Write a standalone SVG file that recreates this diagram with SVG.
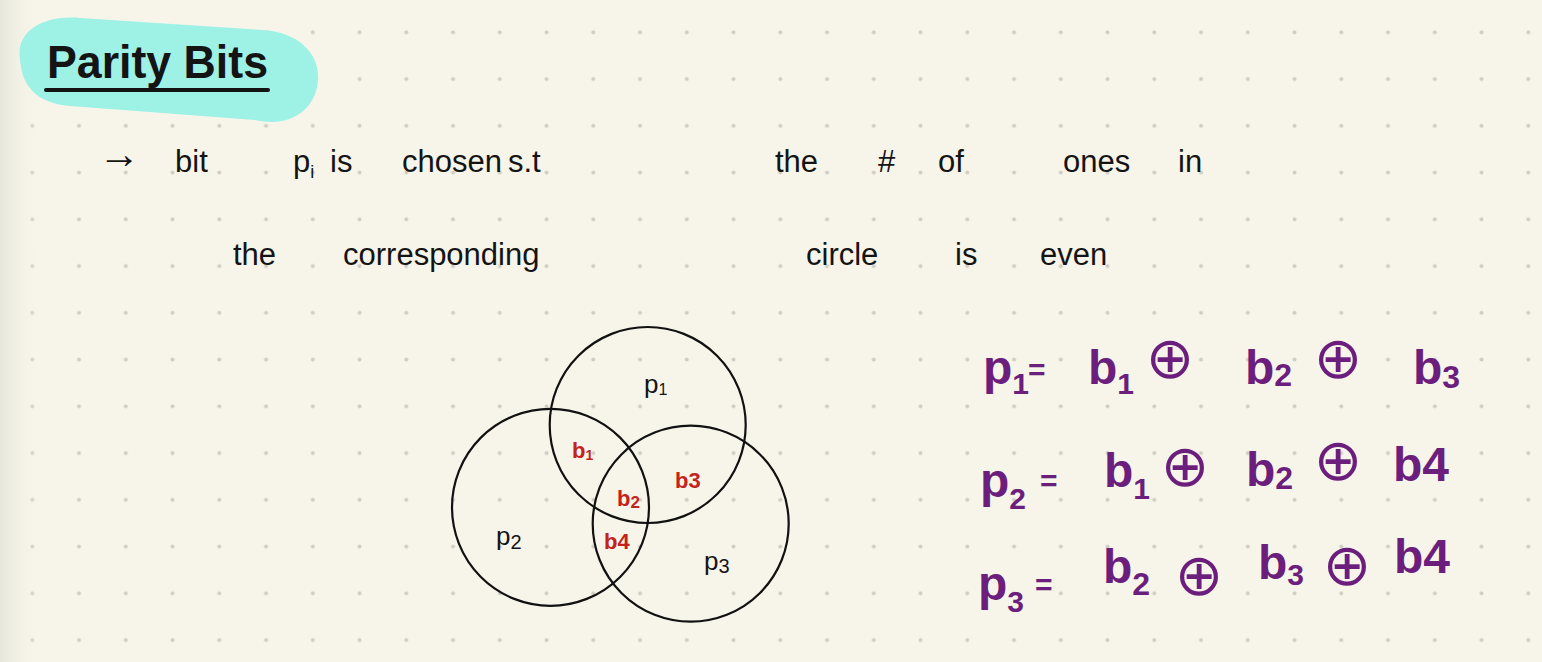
<svg xmlns="http://www.w3.org/2000/svg" width="1542" height="662" viewBox="0 0 1542 662">
  <defs>
    <pattern id="dots" patternUnits="userSpaceOnUse" width="46.75" height="46.75">
      <circle cx="32.3" cy="32.3" r="2" fill="#cfcdc4"/>
    </pattern>
    <linearGradient id="edge" x1="0" y1="0" x2="1" y2="0">
      <stop offset="0" stop-color="#e6e6da"/>
      <stop offset="1" stop-color="#f7f5ea" stop-opacity="0"/>
    </linearGradient>
    <style>
      .ink { font-family: "Liberation Sans", "DejaVu Sans", sans-serif; fill: #141414; }
      .note { font-size: 31px; }
      .red { font-family: "Liberation Sans", sans-serif; fill: #c4231b; font-size: 22px; font-weight: bold; }
      .lbl { font-family: "Liberation Sans", sans-serif; fill: #141414; font-size: 26px; }
      .eq { font-family: "Liberation Sans", "DejaVu Sans", sans-serif; fill: #6c1e7d; font-size: 48px; font-weight: bold; }
      .xor { font-family: "DejaVu Sans", sans-serif; fill: #6c1e7d; font-size: 58px; }
      .venn { fill: none; stroke: #111; stroke-width: 2.2; }
    </style>
  </defs>
  <rect width="1542" height="662" fill="#f7f5ea"/>
  <rect width="1542" height="662" fill="url(#dots)"/>
  <rect width="40" height="662" fill="url(#edge)"/>

  <g id="title">
    <path d="M 20,60 C 15,30 45,15 80,18 L 262,30 C 300,32 320,55 318,80 C 316,110 290,128 255,120 L 70,106 C 35,103 22,85 20,60 Z" fill="#9ef1e5"/>
    <text class="ink" x="47" y="78" font-size="46" font-weight="bold" textLength="221" lengthAdjust="spacingAndGlyphs">Parity Bits</text>
    <line x1="46" y1="90" x2="268" y2="90" stroke="#141414" stroke-width="4" stroke-linecap="round"/>
  </g>

  <g id="note-line-1">
    <text class="ink note" y="172"><tspan x="98" font-size="42" dy="-4">→</tspan><tspan x="175" dy="4">bit</tspan><tspan x="293">p</tspan><tspan font-size="18" dy="6">i</tspan><tspan x="330" dy="-6">is</tspan><tspan x="402">chosen</tspan><tspan x="508">s.t</tspan><tspan x="775">the</tspan><tspan x="878">#</tspan><tspan x="938">of</tspan><tspan x="1063">ones</tspan><tspan x="1178">in</tspan></text>
  </g>
  <g id="note-line-2">
    <text class="ink note" y="265"><tspan x="233">the</tspan><tspan x="343">corresponding</tspan><tspan x="806">circle</tspan><tspan x="955">is</tspan><tspan x="1040">even</tspan></text>
  </g>

  <g id="circle-p1">
    <circle class="venn" cx="647.7" cy="425" r="98"/>
    <text class="lbl" x="644" y="393">p<tspan font-size="16" dy="2">1</tspan></text>
  </g>
  <g id="circle-p2">
    <circle class="venn" cx="550.5" cy="507.3" r="98.5"/>
    <text class="lbl" x="496" y="545">p<tspan font-size="20" dy="4">2</tspan></text>
  </g>
  <g id="circle-p3">
    <circle class="venn" cx="690.7" cy="523.7" r="98"/>
    <text class="lbl" x="704" y="570">p<tspan font-size="20" dy="3">3</tspan></text>
  </g>
  <g id="venn-bits">
    <text class="red" x="572" y="458">b<tspan font-size="14" dy="2">1</tspan></text>
    <text class="red" x="675" y="488">b3</text>
    <text class="red" x="617" y="506">b<tspan font-size="17" dy="2">2</tspan></text>
    <text class="red" x="604" y="549">b4</text>
  </g>

  <g id="eq-p1">
    <text class="eq" y="384"><tspan x="983">p</tspan><tspan font-size="30" dy="10">1</tspan><tspan x="1028" dy="-14" font-size="30">=</tspan><tspan x="1088" dy="4">b</tspan><tspan font-size="30" dy="10">1</tspan><tspan x="1245" dy="-10">b</tspan><tspan font-size="32" dy="2">2</tspan><tspan x="1413" dy="-2">b</tspan><tspan font-size="32" dy="4">3</tspan></text>
    <text class="xor" x="1170" y="378" text-anchor="middle">⊕</text>
    <text class="xor" x="1338" y="378" text-anchor="middle">⊕</text>
  </g>
  <g id="eq-p2">
    <text class="eq" y="497"><tspan x="980">p</tspan><tspan font-size="30" dy="12">2</tspan><tspan x="1040" dy="-18" font-size="30">=</tspan><tspan x="1104" dy="-4">b</tspan><tspan font-size="30" dy="12">1</tspan><tspan x="1246" dy="-13">b</tspan><tspan font-size="32" dy="3">2</tspan><tspan x="1393" dy="-8">b4</tspan></text>
    <text class="xor" x="1185" y="486" text-anchor="middle">⊕</text>
    <text class="xor" x="1338" y="480" text-anchor="middle">⊕</text>
  </g>
  <g id="eq-p3">
    <text class="eq" y="600"><tspan x="978">p</tspan><tspan font-size="30" dy="12">3</tspan><tspan x="1035" dy="-17" font-size="30">=</tspan><tspan x="1103" dy="-12">b</tspan><tspan font-size="32" dy="12">2</tspan><tspan x="1258" dy="-16">b</tspan><tspan font-size="30" dy="6">3</tspan><tspan x="1394" dy="-12">b4</tspan></text>
    <text class="xor" x="1199" y="595" text-anchor="middle">⊕</text>
    <text class="xor" x="1347" y="585" text-anchor="middle">⊕</text>
  </g>
</svg>
